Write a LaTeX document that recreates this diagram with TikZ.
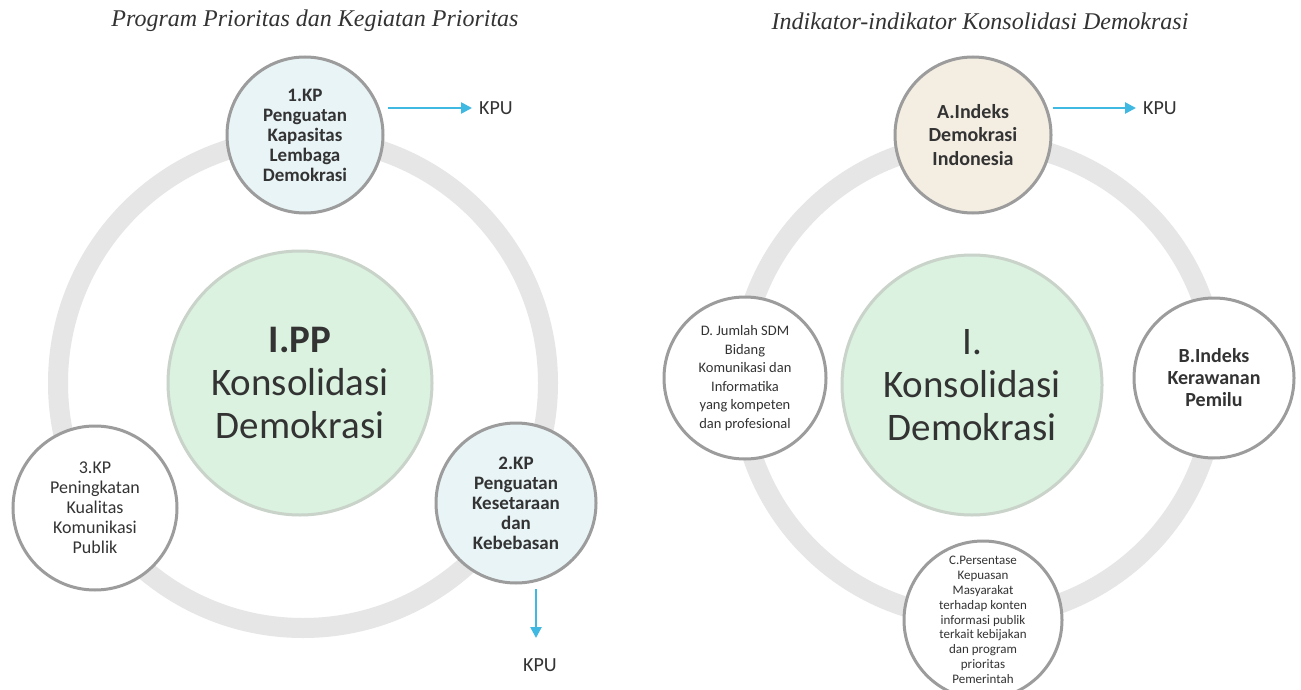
\documentclass[tikz,border=0pt]{standalone}
\usepackage{fontspec}
\setmainfont{Carlito}
\newfontfamily\titlefont{Liberation Serif}
\usetikzlibrary{arrows.meta}
\definecolor{ringgray}{HTML}{E6E6E6}
\definecolor{edgegray}{HTML}{9C9C9C}
\definecolor{greenfill}{HTML}{DAF2DF}
\definecolor{greenedge}{HTML}{C9D3CA}
\definecolor{bluefill}{HTML}{E9F4F6}
\definecolor{beigefill}{HTML}{F3EDE2}
\definecolor{txt}{HTML}{333333}
\definecolor{arrowblue}{HTML}{3FB8E2}
\tikzset{
  ring/.style={draw=ringgray, line width=20pt},
  bigc/.style={circle, draw=greenedge, line width=3pt, fill=greenfill, text=txt, align=center, inner sep=0pt,
    font=\fontsize{39}{43}\selectfont},
  smallc/.style={circle, draw=edgegray, line width=3pt, fill=white, text=txt, align=center, inner sep=0pt},
  kparrow/.style={draw=arrowblue, line width=2.5pt, -{Triangle[length=11pt,width=11pt]}},
  kputext/.style={text=txt, font=\fontsize{20}{22}\selectfont, inner sep=0pt},
  titletext/.style={text=txt, font=\titlefont\itshape\fontsize{24}{26}\selectfont, inner sep=0pt}
}
\begin{document}
\begin{tikzpicture}[x=1pt,y=-1pt]
\useasboundingbox[fill=white] (0,0) rectangle (1301,690);
% titles
\node[titletext] (t1) at (315,21) {Program Prioritas dan Kegiatan Prioritas};
\node[titletext] (t2) at (980,21) {Indikator-indikator Konsolidasi Demokrasi};
% rings
\draw[ring] (303,383) circle[radius=245];
\draw[ring] (978,380) circle[radius=238];
% left diagram
\node[bigc, minimum size=264pt] (pp) at (300,383)
  {\textbf{I.PP}\\Konsolidasi\\Demokrasi};
\node[smallc, fill=bluefill, minimum size=156pt,
  font=\fontsize{19}{20}\selectfont\bfseries] (k1) at (305,135)
  {1.KP\\Penguatan\\Kapasitas\\Lembaga\\Demokrasi};
\node[smallc, fill=bluefill, minimum size=160pt,
  font=\fontsize{19}{20}\selectfont\bfseries] (k2) at (516,503)
  {2.KP\\Penguatan\\Kesetaraan\\dan\\Kebebasan};
\node[smallc, minimum size=164pt,
  font=\fontsize{18}{20}\selectfont] (k3) at (95,508)
  {3.KP\\Peningkatan\\Kualitas\\Komunikasi\\Publik};
\node[kputext, anchor=west] (kpu1) at (479,108) {KPU};
\node[kputext] (kpu2) at (540,665) {KPU};
\coordinate (a1s) at (388,108);
\coordinate (a2s) at (536,589);
\coordinate (a2e) at (536,638);
\draw[kparrow, shorten >=7pt] (a1s) -- (kpu1.west);
\draw[kparrow] (a2s) -- (a2e);
% right diagram
\node[bigc, minimum size=260pt] (kd) at (972,385)
  {I.\\Konsolidasi\\Demokrasi};
\node[smallc, fill=beigefill, minimum size=156pt,
  font=\fontsize{20}{23.5}\selectfont\bfseries] (ia) at (973,135)
  {A.Indeks\\Demokrasi\\Indonesia};
\node[smallc, minimum size=160pt,
  font=\fontsize{20}{22}\selectfont\bfseries] (ib) at (1214,378)
  {B.Indeks\\Kerawanan\\Pemilu};
\node[smallc, minimum size=158pt,
  font=\fontsize{13}{14.8}\selectfont] (ic) at (983,620)
  {C.Persentase\\Kepuasan\\Masyarakat\\terhadap konten\\informasi publik\\terkait kebijakan\\dan program\\prioritas\\Pemerintah};
\node[smallc, minimum size=162pt,
  font=\fontsize{14.5}{18.5}\selectfont] (id) at (745,378)
  {D. Jumlah SDM\\Bidang\\Komunikasi dan\\Informatika\\yang kompeten\\dan profesional};
\node[kputext, anchor=west] (kpu3) at (1143,108) {KPU};
\coordinate (a3s) at (1053,108);
\draw[kparrow, shorten >=7pt] (a3s) -- (kpu3.west);
\end{tikzpicture}
\end{document}
